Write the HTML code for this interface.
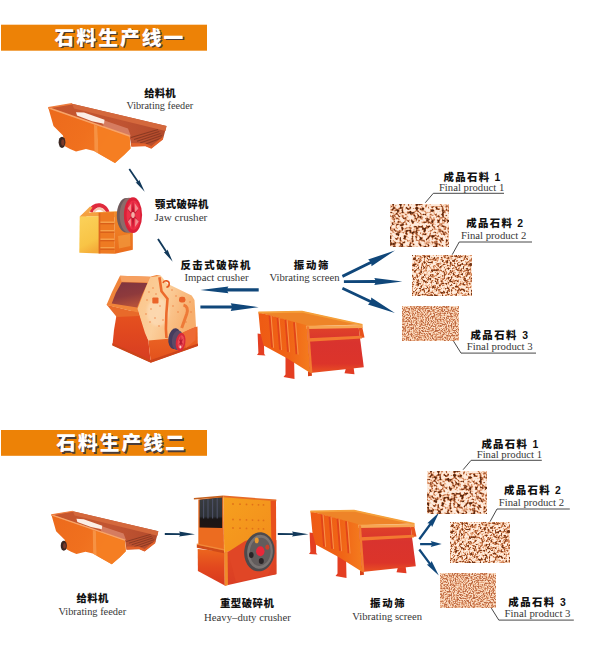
<!DOCTYPE html>
<html lang="zh-CN"><head><meta charset="utf-8"><title>石料生产线</title>
<style>
html,body{margin:0;padding:0;background:#fff;}
body{width:600px;height:647px;overflow:hidden;position:relative;}
svg{position:absolute;left:0;top:0;display:block}
.cn{font-family:"Liberation Sans","Noto Sans CJK SC",sans-serif;font-weight:900;font-size:10.4px;fill:#111}
.en{font-family:"Liberation Serif",serif;font-size:10.3px;fill:#383838}
.ttl{font-family:"Liberation Sans","Noto Sans CJK SC",sans-serif;font-weight:900;font-size:19.8px;letter-spacing:2px}
</style></head><body>
<svg width="600" height="647" viewBox="0 0 600 647">
<defs>
<filter id="b1"><feGaussianBlur stdDeviation="1.1"/></filter>
<filter id="b2"><feGaussianBlur stdDeviation="0.7"/></filter>
<filter id="st1" x="0" y="0" width="100%" height="100%" color-interpolation-filters="sRGB">
<feTurbulence type="fractalNoise" baseFrequency="0.26" numOctaves="1" seed="3" result="n1"/>
<feTurbulence type="fractalNoise" baseFrequency="0.5" numOctaves="1" seed="5" result="n2"/>
<feComposite in="n1" in2="n2" operator="arithmetic" k1="0" k2="0.5" k3="0.5" k4="0" result="m"/>
<feColorMatrix in="m" type="matrix" values="1 0 0 0 0  1 0 0 0 0  1 0 0 0 0  0 0 0 0 1" result="g"/>
<feComponentTransfer in="g">
<feFuncR type="table" tableValues="0.275 0.280 0.285 0.291 0.296 0.302 0.307 0.313 0.318 0.324 0.329 0.334 0.340 0.345 0.351 0.426 0.549 0.670 0.786 0.889 0.943 0.973 0.987 0.992 0.993 0.993 0.994 0.994 0.995 0.995 0.996 0.996 0.996 0.997 0.997 0.998 0.998 0.999 0.999 1.000 1.000"/>
<feFuncG type="table" tableValues="0.118 0.121 0.124 0.127 0.131 0.134 0.137 0.141 0.144 0.147 0.150 0.154 0.157 0.160 0.163 0.214 0.295 0.384 0.502 0.623 0.755 0.841 0.896 0.919 0.921 0.923 0.926 0.928 0.930 0.932 0.935 0.937 0.939 0.941 0.943 0.946 0.948 0.950 0.952 0.955 0.957"/>
<feFuncB type="table" tableValues="0.039 0.041 0.044 0.046 0.048 0.050 0.052 0.054 0.057 0.059 0.061 0.063 0.065 0.068 0.070 0.107 0.167 0.238 0.350 0.471 0.627 0.742 0.828 0.865 0.868 0.872 0.876 0.879 0.883 0.886 0.890 0.893 0.897 0.901 0.904 0.908 0.911 0.915 0.918 0.922 0.925"/>
</feComponentTransfer>
</filter>
<filter id="st2" x="0" y="0" width="100%" height="100%" color-interpolation-filters="sRGB">
<feTurbulence type="fractalNoise" baseFrequency="0.36" numOctaves="1" seed="7" result="n1"/>
<feTurbulence type="fractalNoise" baseFrequency="0.66" numOctaves="1" seed="9" result="n2"/>
<feComposite in="n1" in2="n2" operator="arithmetic" k1="0" k2="0.5" k3="0.5" k4="0" result="m"/>
<feColorMatrix in="m" type="matrix" values="1 0 0 0 0  1 0 0 0 0  1 0 0 0 0  0 0 0 0 1" result="g"/>
<feComponentTransfer in="g">
<feFuncR type="table" tableValues="0.353 0.360 0.366 0.373 0.379 0.386 0.393 0.399 0.406 0.413 0.419 0.426 0.432 0.439 0.446 0.472 0.575 0.677 0.782 0.886 0.940 0.977 0.988 0.996 0.996 0.997 0.997 0.997 0.997 0.997 0.998 0.998 0.998 0.998 0.999 0.999 0.999 0.999 1.000 1.000 1.000"/>
<feFuncG type="table" tableValues="0.157 0.161 0.165 0.169 0.173 0.177 0.181 0.185 0.189 0.193 0.197 0.201 0.205 0.209 0.213 0.230 0.304 0.377 0.486 0.604 0.741 0.842 0.888 0.926 0.928 0.930 0.931 0.933 0.935 0.937 0.939 0.940 0.942 0.944 0.946 0.948 0.950 0.951 0.953 0.955 0.957"/>
<feFuncB type="table" tableValues="0.071 0.072 0.074 0.076 0.078 0.080 0.082 0.084 0.085 0.087 0.089 0.091 0.093 0.095 0.097 0.109 0.163 0.217 0.322 0.439 0.606 0.736 0.811 0.871 0.874 0.877 0.879 0.882 0.885 0.888 0.890 0.893 0.896 0.898 0.901 0.904 0.907 0.909 0.912 0.915 0.918"/>
</feComponentTransfer>
</filter>
<filter id="st3" x="0" y="0" width="100%" height="100%" color-interpolation-filters="sRGB">
<feTurbulence type="fractalNoise" baseFrequency="0.62" numOctaves="1" seed="11" result="n1"/>
<feTurbulence type="fractalNoise" baseFrequency="0.95" numOctaves="1" seed="13" result="n2"/>
<feComposite in="n1" in2="n2" operator="arithmetic" k1="0" k2="0.5" k3="0.5" k4="0" result="m"/>
<feColorMatrix in="m" type="matrix" values="1 0 0 0 0  1 0 0 0 0  1 0 0 0 0  0 0 0 0 1" result="g"/>
<feComponentTransfer in="g">
<feFuncR type="table" tableValues="0.647 0.653 0.658 0.664 0.670 0.675 0.681 0.687 0.692 0.698 0.703 0.709 0.715 0.720 0.726 0.732 0.737 0.784 0.831 0.875 0.914 0.943 0.962 0.977 0.981 0.982 0.984 0.985 0.986 0.987 0.988 0.989 0.991 0.992 0.993 0.994 0.995 0.996 0.998 0.999 1.000"/>
<feFuncG type="table" tableValues="0.361 0.364 0.368 0.371 0.375 0.378 0.381 0.385 0.388 0.392 0.395 0.399 0.402 0.405 0.409 0.412 0.416 0.478 0.541 0.610 0.680 0.754 0.809 0.860 0.873 0.876 0.880 0.883 0.886 0.890 0.893 0.896 0.899 0.903 0.906 0.909 0.912 0.916 0.919 0.922 0.925"/>
<feFuncB type="table" tableValues="0.216 0.219 0.222 0.225 0.228 0.232 0.235 0.238 0.241 0.244 0.248 0.251 0.254 0.257 0.260 0.263 0.267 0.325 0.384 0.453 0.529 0.618 0.692 0.762 0.781 0.787 0.792 0.798 0.803 0.809 0.815 0.820 0.826 0.831 0.837 0.843 0.848 0.854 0.859 0.865 0.871"/>
</feComponentTransfer>
</filter>
<linearGradient id="gFeedIn" x1="0" y1="0" x2="1" y2="0"><stop offset="0" stop-color="#c6562c"/><stop offset="0.6" stop-color="#c05432"/><stop offset="1" stop-color="#b24a2c"/></linearGradient>
<linearGradient id="gFeedFront" x1="0" y1="0" x2="1" y2="0.4"><stop offset="0" stop-color="#ec6a1c"/><stop offset="0.55" stop-color="#f0701e"/><stop offset="1" stop-color="#f47c26"/></linearGradient>
<linearGradient id="gJawY" x1="0.3" y1="0" x2="0.6" y2="1"><stop offset="0" stop-color="#fbd058"/><stop offset="0.7" stop-color="#f8c446"/><stop offset="1" stop-color="#f4aa38"/></linearGradient>
<linearGradient id="gJawR" x1="0" y1="0" x2="0" y2="1"><stop offset="0" stop-color="#f08a2a"/><stop offset="1" stop-color="#ea6c1c"/></linearGradient>
<linearGradient id="gImpBaseL" x1="0" y1="0" x2="0" y2="1"><stop offset="0" stop-color="#e6541f"/><stop offset="0.45" stop-color="#e0481f"/><stop offset="1" stop-color="#d63c22"/></linearGradient>
<linearGradient id="gImpBaseR" x1="0" y1="0" x2="0" y2="1"><stop offset="0" stop-color="#ee6a26"/><stop offset="1" stop-color="#e2501c"/></linearGradient>
<linearGradient id="gImpOpen" x1="0" y1="0" x2="0.3" y2="1"><stop offset="0" stop-color="#7e3440"/><stop offset="0.6" stop-color="#8e3a3c"/><stop offset="1" stop-color="#b4503a"/></linearGradient>
<linearGradient id="gImpSide" x1="0" y1="0" x2="1" y2="0.4"><stop offset="0" stop-color="#fbc488"/><stop offset="0.5" stop-color="#fbcf9c"/><stop offset="1" stop-color="#f7ae6c"/></linearGradient>
<linearGradient id="gScrSide" x1="0" y1="0" x2="1" y2="0"><stop offset="0" stop-color="#ee5a14"/><stop offset="0.6" stop-color="#f06416"/><stop offset="1" stop-color="#f47c1e"/></linearGradient>
<linearGradient id="gScrFront" x1="0" y1="0" x2="0" y2="1"><stop offset="0" stop-color="#e04428"/><stop offset="0.35" stop-color="#d9332e"/><stop offset="0.8" stop-color="#dc342a"/><stop offset="1" stop-color="#ea5222"/></linearGradient>
<linearGradient id="gHvL" x1="0" y1="0" x2="0" y2="1"><stop offset="0" stop-color="#ec661e"/><stop offset="0.5" stop-color="#e2481e"/><stop offset="1" stop-color="#d8381e"/></linearGradient>
<linearGradient id="gHvOpen" x1="0" y1="0" x2="0" y2="1"><stop offset="0" stop-color="#3a3c40"/><stop offset="0.62" stop-color="#2e3238"/><stop offset="0.7" stop-color="#1a1616"/><stop offset="1" stop-color="#201614"/></linearGradient>
<linearGradient id="gHvFU" x1="0" y1="0" x2="1" y2="1"><stop offset="0" stop-color="#f6a01e"/><stop offset="1" stop-color="#f28c1c"/></linearGradient>
<linearGradient id="gHvFL" x1="0" y1="0" x2="0" y2="1"><stop offset="0" stop-color="#e24a24"/><stop offset="1" stop-color="#da3e24"/></linearGradient>
<g id="feeder">
<polygon points="48.3,107.7 72.0,103.7 166.5,126.0 163.0,139.0 151.3,148.3 145.3,145.7 131.3,146.3 129.6,136.0" fill="url(#gFeedIn)" />
<polygon points="72.0,103.7 166.5,126.0 165.5,131.0 74.0,108.5" fill="#d4683c" />
<polygon points="100.0,119.0 128.0,128.5 131.0,136.5 104.0,127.0" fill="#dc8a70" opacity="0.75"/>
<polygon points="76.0,112.2 84.0,112.6 104.5,119.8 104.0,123.8 92.0,121.2 77.0,115.6" fill="#fbeee6" filter="url(#b2)"/>
<line x1="131.0" y1="137.5" x2="158.0" y2="129.5" stroke="#8c3a22" stroke-width="1.1"/>
<line x1="134.0" y1="139.4" x2="159.2" y2="131.5" stroke="#8c3a22" stroke-width="1.1"/>
<line x1="137.0" y1="141.2" x2="160.5" y2="133.5" stroke="#8c3a22" stroke-width="1.1"/>
<line x1="140.0" y1="143.1" x2="161.8" y2="135.5" stroke="#8c3a22" stroke-width="1.1"/>
<line x1="143.0" y1="145.0" x2="163.0" y2="137.5" stroke="#8c3a22" stroke-width="1.1"/>
<polygon points="131.3,143.0 145.3,143.5 151.3,146.0 163.0,136.5 163.0,139.5 151.3,148.8 145.3,146.2 131.3,146.8" fill="#e2612a" />
<polygon points="48.3,107.7 129.6,136.0 130.5,148.5 124.0,155.0 115.0,163.0 94.0,151.0 86.0,149.0 76.0,151.5 70.0,149.0 64.5,146.0 63.0,135.5 53.5,126.0" fill="url(#gFeedFront)" />
<polygon points="94.0,124.7 97.5,126.0 98.5,153.5 94.5,151.2" fill="#f89a4c" opacity="0.8"/>
<polygon points="97.5,126.0 129.6,137.2 130.5,148.5 124.0,155.0 115.0,163.0 98.5,153.5" fill="#f57e22" opacity="0.9"/>
<polyline points="48.3,107.7 129.6,136.0" fill="none" stroke="#f7a468" stroke-width="1.6"/>
<polyline points="48.3,107.7 72.0,103.7" fill="none" stroke="#ee7c3c" stroke-width="1.4"/>
<ellipse cx="62" cy="142.3" rx="3.4" ry="5.6" fill="#3b2722"/>
<ellipse cx="62.8" cy="142.5" rx="1.6" ry="3.2" fill="#7a3a2a"/>
</g>
<g id="screen">
<g transform="translate(0 0.5)">
<polygon points="257.6,333.0 263.8,334.0 264.2,353.5 265.5,355.0 257.0,354.5 258.4,352.5" fill="#e43e22" />
<polygon points="285.5,351.0 294.0,355.0 294.5,378.5 283.5,376.5 285.5,374.0" fill="#e43e22" />
<polygon points="308.0,371.0 311.5,370.5 312.0,375.3 308.0,375.8" fill="#d84218" />
<polygon points="346.5,366.0 353.3,364.8 354.5,373.8 344.5,372.8" fill="#e23c24" />
<polygon points="258.4,311.7 302.0,310.8 362.0,323.9 306.8,325.8" fill="#ee8428" />
<polygon points="258.4,311.7 306.8,324.7 310.4,372.5 287.0,357.8 263.6,345.0 260.4,332.8" fill="url(#gScrSide)" />
<line x1="269.5" y1="315" x2="272.0" y2="347" stroke="#e2441a" stroke-width="1.8"/>
<line x1="271.1" y1="315.3" x2="273.6" y2="347.3" stroke="#f8924a" stroke-width="1"/>
<line x1="277.5" y1="317.2" x2="280.0" y2="349.2" stroke="#e2441a" stroke-width="1.8"/>
<line x1="279.1" y1="317.5" x2="281.6" y2="349.5" stroke="#f8924a" stroke-width="1"/>
<line x1="285.5" y1="319.4" x2="288.0" y2="351.4" stroke="#e2441a" stroke-width="1.8"/>
<line x1="287.1" y1="319.7" x2="289.6" y2="351.7" stroke="#f8924a" stroke-width="1"/>
<line x1="294" y1="321.7" x2="296.5" y2="353.7" stroke="#e2441a" stroke-width="1.8"/>
<line x1="295.6" y1="322.0" x2="298.1" y2="354.0" stroke="#f8924a" stroke-width="1"/>
<polyline points="258.4,312.0 302.0,311.2 362.5,324.3" fill="none" stroke="#f5a03a" stroke-width="1.8"/>
<polygon points="306.8,325.8 358.5,325.8 363.8,366.8 310.2,372.6" fill="url(#gScrFront)" />
<polygon points="358.5,325.8 362.0,325.5 364.5,337.0 360.0,337.5" fill="#e8521c" />
<polygon points="306.0,325.2 362.5,324.5 362.8,327.6 306.5,328.4" fill="#f7a652" />
<polygon points="307.8,337.8 361.5,335.3 362.0,338.0 308.0,341.2" fill="#f27a30" />
<polygon points="306.8,325.8 309.0,326.0 312.4,372.3 310.2,372.6" fill="#f27a30" />
</g>
</g>
</defs>

<!-- banners -->
<rect x="1" y="24.7" width="206" height="26" fill="#ed8206"/>
<text class="ttl" x="56" y="46.2" fill="#4a3c38">石料生产线一</text>
<text class="ttl" x="54.6" y="44.8" fill="#fff">石料生产线一</text>
<rect x="1" y="430" width="206" height="25.8" fill="#ed8206"/>
<text class="ttl" x="57.6" y="451.7" fill="#4a3c38">石料生产线二</text>
<text class="ttl" x="56.2" y="450.3" fill="#fff">石料生产线二</text>

<!-- line 1 -->
<use href="#feeder"/>
<g id="jaw">
<path d="M89,211 C91,201.5 105,200 109.5,211.5 L106.5,213 C103,205.5 95,206 92.5,213 Z" fill="#e02a3c"/>
<path d="M92.5,213 C95,206 103,205.5 106.5,213 L104.5,213.5 C101.5,208.5 96.5,208.5 94.5,213.5Z" fill="#f6c8b0"/>
<polygon points="79.7,216.8 90.0,206.6 92.5,207.4 86.0,217.0" fill="#f4a648" />
<polygon points="79.7,216.6 84.5,212.8 116.0,211.2 132.0,212.0 132.0,218.0 99.0,216.5" fill="#f4a040" />
<polygon points="79.7,216.6 98.9,216.2 99.6,253.4 79.3,252.8" fill="url(#gJawY)" />
<polygon points="98.9,212.8 114.4,212.0 115.0,253.8 99.6,253.4" fill="#ee7a22" />
<rect x="99.6" y="221.5" width="15" height="1.6" fill="#f6a04a"/>
<rect x="99.6" y="223.1" width="15" height="1.2" fill="#d85c18"/>
<rect x="99.6" y="230" width="15" height="1.6" fill="#f6a04a"/>
<rect x="99.6" y="231.6" width="15" height="1.2" fill="#d85c18"/>
<rect x="99.6" y="238.5" width="15" height="1.6" fill="#f6a04a"/>
<rect x="99.6" y="240.1" width="15" height="1.2" fill="#d85c18"/>
<rect x="99.6" y="247" width="15" height="1.6" fill="#f6a04a"/>
<rect x="99.6" y="248.6" width="15" height="1.2" fill="#d85c18"/>
<rect x="98.6" y="213" width="1.8" height="40.5" fill="#de661e"/>
<polygon points="114.4,212.0 132.8,212.0 132.8,249.8 115.0,253.8" fill="url(#gJawR)" />
<polygon points="118.0,236.0 130.0,234.0 130.5,246.0 119.0,248.5" fill="#f29a3e" opacity="0.7"/>
<ellipse cx="126.3" cy="215.3" rx="9.5" ry="17.2" fill="#6e5a5c"/>
<ellipse cx="129" cy="215.3" rx="9.3" ry="17.5" fill="#8c6c6a"/>
<ellipse cx="133" cy="215.1" rx="9.1" ry="17.8" fill="#dc2038"/>
<ellipse cx="133.4" cy="215.1" rx="6.9" ry="14.6" fill="#ee3048"/>
<path d="M133,200.5 L134.6,215 L133,229.7 L131.4,215Z M126.5,207.5 L133.6,214.2 L139.5,223 L132.4,216Z M139.5,207.2 L133.6,216 L126.6,223 L132.4,214.2Z" fill="#bc1830"/>
<path d="M134.6,203 L138.5,208.5 L135.2,212.5Z M130.8,218 L127.8,221.5 L131,227Z M135.4,218 L138.8,221.5 L135,227Z M131.2,203.5 L127.6,208.5 L130.8,212.5Z" fill="#f6a8a4" opacity="0.75"/>
<ellipse cx="133" cy="215.1" rx="1.8" ry="3" fill="#f6b0a8"/>
</g>
<g id="impact">
<polygon points="116.7,314.0 138.3,310.0 148.3,340.0 150.8,362.5 112.5,345.0 114.0,330.0" fill="url(#gImpBaseL)" />
<polygon points="106.7,304.7 136.7,312.2 138.3,310.0 139.0,316.0 116.7,317.0" fill="#e86a2a" />
<polygon points="148.3,340.0 197.5,326.5 197.8,345.8 150.8,362.5" fill="url(#gImpBaseR)" />
<polygon points="112.3,343.2 150.8,360.0 198.0,343.6 198.0,346.0 150.8,362.8 112.3,345.5" fill="#cc441a" />
<polygon points="120.0,275.8 150.0,276.7 156.7,275.0 160.8,275.8 150.0,281.0 137.5,312.5 106.5,304.9 112.0,292.0" fill="#f0843a" />
<polygon points="120.0,275.8 150.0,276.7 147.8,282.6 121.5,281.8" fill="#f6a060" />
<polygon points="121.7,282.2 147.5,283.0 142.5,294.0 137.2,307.6 111.7,303.6 115.8,293.0" fill="url(#gImpOpen)" />
<polygon points="150.0,277.2 160.8,275.8 167.5,283.8 191.7,295.5 194.5,300.0 196.0,326.5 183.0,332.4 168.3,338.8 148.3,340.5 145.0,333.0 137.5,308.8 146.0,287.0" fill="url(#gImpSide)" />
<ellipse cx="158" cy="312" rx="11" ry="14" fill="#fde0c0" opacity="0.55" filter="url(#b1)"/>
<path d="M159.4,277.2 L161.5,291.3 L167.5,298.8 L166.4,313 L165.9,329 L166.5,338" fill="none" stroke="#ec6a2c" stroke-width="2.6"/>
<rect x="152.3" y="297.4" width="6.2" height="6" rx="1" fill="#ea642a"/>
<rect x="179" y="296.8" width="6.4" height="5.8" rx="2.4" fill="#ea642a"/>
<path d="M163,283 a3.2,3.2 0 1 1 3.4,4.2" fill="none" stroke="#e4581f" stroke-width="1.6"/>
<path d="M183.5,305 q5.5,1.5 3.2,9 l-5,14" fill="none" stroke="#ee7a38" stroke-width="3"/>
<circle cx="149" cy="292" r="0.7" fill="#ea7a3a"/>
<circle cx="153" cy="288" r="0.7" fill="#ea7a3a"/>
<circle cx="156" cy="294" r="0.7" fill="#ea7a3a"/>
<circle cx="147" cy="300" r="0.7" fill="#ea7a3a"/>
<circle cx="151" cy="309" r="0.7" fill="#ea7a3a"/>
<circle cx="155" cy="318" r="0.7" fill="#ea7a3a"/>
<circle cx="150" cy="322" r="0.7" fill="#ea7a3a"/>
<circle cx="159" cy="326" r="0.7" fill="#ea7a3a"/>
<circle cx="163" cy="320" r="0.7" fill="#ea7a3a"/>
<circle cx="172" cy="290" r="0.7" fill="#ea7a3a"/>
<circle cx="176" cy="296" r="0.7" fill="#ea7a3a"/>
<circle cx="173" cy="306" r="0.7" fill="#ea7a3a"/>
<circle cx="178" cy="312" r="0.7" fill="#ea7a3a"/>
<circle cx="190" cy="302" r="0.7" fill="#ea7a3a"/>
<circle cx="191" cy="312" r="0.7" fill="#ea7a3a"/>
<circle cx="186" cy="322" r="0.7" fill="#ea7a3a"/>
<circle cx="146" cy="314" r="0.7" fill="#ea7a3a"/>
<circle cx="160" cy="306" r="0.7" fill="#ea7a3a"/>
<polygon points="183.0,332.4 196.0,326.5 195.5,340.0 186.0,348.0" fill="#ee6a34" />
<ellipse cx="174.6" cy="338.6" rx="6.2" ry="10.4" fill="#463c5e" transform="rotate(8 174.6 338.6)"/>
<ellipse cx="177.6" cy="340.2" rx="5.6" ry="9.8" fill="#5c4a66" transform="rotate(8 177.6 340.2)"/>
<ellipse cx="180.6" cy="342" rx="4.8" ry="9.2" fill="#d8283a" transform="rotate(8 180.6 342)"/>
<ellipse cx="180.9" cy="342" rx="3.2" ry="6.8" fill="#ec4a54" transform="rotate(8 180.9 342)"/>
<path d="M180.9,335.4 L181.8,342 L180.9,348.6 L180,342Z M178.2,338.6 L181.3,341.6 L183.6,345.6 L180.5,342.6Z M183.6,338.2 L181.3,342.4 L178.2,345.6 L180.5,341.4Z" fill="#b81830"/>
<ellipse cx="180.4" cy="347" rx="1" ry="1.4" fill="#fbd0d0"/>
</g>
<use href="#screen"/>
<polygon points="128.6,169.5 137.2,182.3 135.6,182.2 144.7,191.7 139.2,179.7 138.7,181.3 130.0,168.5" fill="#12395a" />
<polygon points="157.2,239.5 165.4,252.1 163.8,252.0 172.7,261.7 167.5,249.6 166.9,251.1 158.8,238.5" fill="#12395a" />
<polygon points="258.7,288.3 227.4,288.3 228.4,286.6 200.4,289.9 228.4,293.2 227.4,291.5 258.7,291.5" fill="#10477a" />
<polygon points="200.4,308.5 231.7,308.6 230.7,310.9 258.7,307.2 230.7,303.3 231.7,305.6 200.4,305.5" fill="#10477a" />
<polygon points="343.0,277.7 371.3,263.7 371.5,266.3 394.9,250.5 368.1,259.5 370.1,261.2 341.8,275.1" fill="#10477a" />
<polygon points="343.9,283.1 375.3,282.9 374.3,285.1 402.3,281.4 374.3,277.9 375.3,280.1 343.9,280.3" fill="#10477a" />
<polygon points="341.8,289.6 369.9,302.8 367.9,304.5 394.9,313.0 371.2,297.6 371.1,300.2 343.0,287.0" fill="#10477a" />

<text class="cn" x="144.3" y="96.9" textLength="31.4" lengthAdjust="spacing">给料机</text>
<text class="en" x="126.4" y="109.2" textLength="66.7" lengthAdjust="spacingAndGlyphs">Vibrating feeder</text>
<text class="cn" x="154.9" y="208.3" textLength="53.5" lengthAdjust="spacing">颚式破碎机</text>
<text class="en" x="154.4" y="221.3" textLength="52.9" lengthAdjust="spacingAndGlyphs">Jaw crusher</text>
<text class="cn" x="180.4" y="269.1" textLength="70.0" lengthAdjust="spacing">反击式破碎机</text>
<text class="en" x="184.4" y="281.3" textLength="64.2" lengthAdjust="spacingAndGlyphs">Impact crusher</text>
<text class="cn" x="293.8" y="269.1" textLength="34.6" lengthAdjust="spacing">振动筛</text>
<text class="en" x="269.4" y="281.3" textLength="70.1" lengthAdjust="spacingAndGlyphs">Vibrating screen</text>
<g transform="translate(0 0)">
<rect x="390" y="204" width="58.5" height="42.7" fill="#d9a57e"/><rect x="390" y="204" width="58.5" height="42.7" filter="url(#st1)"/>
<rect x="412.4" y="255.6" width="59.2" height="40" fill="#d9a57e"/><rect x="412.4" y="255.6" width="59.2" height="40" filter="url(#st2)"/>
<rect x="402.5" y="306.6" width="55.6" height="34" fill="#dfae8a"/><rect x="402.5" y="306.6" width="55.6" height="34" filter="url(#st3)"/>
<polyline points="425.3,202.7 433.3,193.3 504,193.3" fill="none" stroke="#333" stroke-width="0.9"/>
<polyline points="452.2,254.7 459.2,242 532,242" fill="none" stroke="#333" stroke-width="0.9"/>
<polyline points="453.5,341.1 461,353.1 536,353.1" fill="none" stroke="#333" stroke-width="0.9"/>
<text class="cn" x="443.6" y="180.7" textLength="56.8" lengthAdjust="spacing">成品石料 1</text>
<text class="en" x="438.9" y="191.4" textLength="65.4" lengthAdjust="spacingAndGlyphs">Final product 1</text>
<text class="cn" x="466.3" y="226.9" textLength="56.8" lengthAdjust="spacing">成品石料 2</text>
<text class="en" x="461.0" y="239.4" textLength="65.3" lengthAdjust="spacingAndGlyphs">Final product 2</text>
<text class="cn" x="470.5" y="339.0" textLength="57.5" lengthAdjust="spacing">成品石料 3</text>
<text class="en" x="466.7" y="350.4" textLength="66.0" lengthAdjust="spacingAndGlyphs">Final product 3</text>
</g>

<!-- line 2 -->
<use href="#feeder" transform="translate(51.3 515.1) scale(0.905 0.895) translate(-48.2 -108)"/>
<g id="heavy">
<polygon points="197.7,549.0 224.0,551.5 224.8,585.6 197.9,571.0" fill="url(#gHvL)" />
<polygon points="198.3,499.5 223.5,496.5 224.0,551.5 198.3,546.0" fill="#ec6c20" />
<polygon points="199.6,499.8 222.2,497.2 222.2,528.0 199.6,527.6" fill="url(#gHvOpen)" />
<line x1="203.6" y1="499.8" x2="203.6" y2="518.5" stroke="#4c5066" stroke-width="1.1"/>
<line x1="208" y1="499.3" x2="208" y2="518.5" stroke="#4c5066" stroke-width="1.1"/>
<line x1="212.6" y1="498.8" x2="212.6" y2="518.5" stroke="#4c5066" stroke-width="1.1"/>
<line x1="217.2" y1="498.3" x2="217.2" y2="518.5" stroke="#4c5066" stroke-width="1.1"/>
<polygon points="196.8,544.6 224.0,550.2 224.0,553.2 196.8,547.8" fill="#d04a18" />
<polygon points="196.8,543.4 224.0,549.0 224.0,550.4 196.8,544.8" fill="#f08a3a" />
<polygon points="223.5,496.5 275.5,500.5 275.7,541.0 224.2,552.5" fill="url(#gHvFU)" />
<polygon points="270.6,500.2 276.0,500.6 276.4,574.0 272.0,575.0" fill="#e8501c" />
<polygon points="224.2,552.5 276.4,540.0 276.4,574.2 224.8,585.8" fill="url(#gHvFL)" />
<polygon points="193.9,498.0 223.3,495.6 223.3,497.2 193.9,499.6" fill="#c4601e" />
<polygon points="223.3,495.6 276.3,499.6 276.3,501.2 223.3,497.2" fill="#e66a26" />
<circle cx="233.0" cy="504.0" r="0.9" fill="#e07018"/>
<circle cx="240.0" cy="504.2" r="0.9" fill="#e07018"/>
<circle cx="246.5" cy="504.4" r="0.9" fill="#e07018"/>
<circle cx="252.5" cy="504.6" r="0.9" fill="#e07018"/>
<circle cx="258.5" cy="504.8" r="0.9" fill="#e07018"/>
<circle cx="263.5" cy="504.9" r="0.9" fill="#e07018"/>
<circle cx="233.0" cy="519.5" r="0.9" fill="#e07018"/>
<circle cx="240.0" cy="519.7" r="0.9" fill="#e07018"/>
<circle cx="246.5" cy="519.9" r="0.9" fill="#e07018"/>
<circle cx="252.5" cy="520.1" r="0.9" fill="#e07018"/>
<circle cx="258.5" cy="520.3" r="0.9" fill="#e07018"/>
<circle cx="263.5" cy="520.4" r="0.9" fill="#e07018"/>
<circle cx="233.0" cy="528.0" r="0.9" fill="#e07018"/>
<circle cx="240.0" cy="528.2" r="0.9" fill="#e07018"/>
<circle cx="246.5" cy="528.4" r="0.9" fill="#e07018"/>
<circle cx="252.5" cy="528.6" r="0.9" fill="#e07018"/>
<circle cx="258.5" cy="528.8" r="0.9" fill="#e07018"/>
<circle cx="263.5" cy="528.9" r="0.9" fill="#e07018"/>
<polygon points="224.2,552.5 227.6,551.7 228.0,585.0 224.8,585.8" fill="#f08a2a" />
<polygon points="228.0,552.0 245.0,541.0 262.0,536.0 274.0,560.0 268.0,575.0 236.0,582.0" fill="#e04626" />
<ellipse cx="259.4" cy="551.8" rx="15.2" ry="19.6" fill="#4e4a4c" transform="rotate(6 259.4 551.8)"/>
<ellipse cx="260" cy="551.8" rx="12.8" ry="17" fill="#7a7472" transform="rotate(6 260 551.8)"/>
<ellipse cx="260.2" cy="551.8" rx="10.4" ry="14.2" fill="#625c5c" transform="rotate(6 260.2 551.8)"/>
<ellipse cx="260.3" cy="551.2" rx="4.2" ry="5" fill="#e8283a"/>
<ellipse cx="251.3" cy="555" rx="2.3" ry="3" fill="#2a2426"/>
<ellipse cx="261.3" cy="561" rx="2.5" ry="3" fill="#2a2426"/>
<ellipse cx="267.3" cy="547.2" rx="2" ry="2.6" fill="#c8402a"/>
<ellipse cx="256.7" cy="540.4" rx="2" ry="2.8" fill="#e89a30"/>
</g>
<use href="#screen" transform="translate(52 199)"/>
<polygon points="164.8,534.9 180.0,535.1 179.0,536.6 195.0,534.3 179.0,531.6 180.0,533.3 164.8,533.1" fill="#12395a" />
<polygon points="277.8,534.9 293.0,535.0 292.0,536.6 308.5,534.3 292.0,531.6 293.0,533.2 277.8,533.1" fill="#12395a" />
<polygon points="420.2,539.9 431.2,524.9 432.1,526.9 439.2,512.2 427.3,523.3 429.4,523.6 418.4,538.5" fill="#10477a" />
<polygon points="420.1,545.2 431.7,545.2 430.7,547.1 441.7,544.1 430.7,541.1 431.7,543.0 420.1,543.0" fill="#10477a" />
<polygon points="418.4,550.2 428.9,564.2 426.8,564.6 438.8,575.6 431.6,561.0 430.7,562.9 420.2,548.8" fill="#10477a" />

<text class="cn" x="76.6" y="602.0" textLength="31.8" lengthAdjust="spacing">给料机</text>
<text class="en" x="58.4" y="615.0" textLength="67.7" lengthAdjust="spacingAndGlyphs">Vibrating feeder</text>
<text class="cn" x="219.9" y="607.4" textLength="53.9" lengthAdjust="spacing">重型破碎机</text>
<text class="en" x="204.0" y="621.2" textLength="86.8" lengthAdjust="spacingAndGlyphs">Heavy–duty crusher</text>
<text class="cn" x="370.0" y="606.8" textLength="34.7" lengthAdjust="spacing">振动筛</text>
<text class="en" x="352.3" y="619.5" textLength="69.8" lengthAdjust="spacingAndGlyphs">Vibrating screen</text>
<g transform="translate(37.8 267)">
<rect x="390" y="204" width="58.5" height="42.7" fill="#d9a57e"/><rect x="390" y="204" width="58.5" height="42.7" filter="url(#st1)"/>
<rect x="412.4" y="255.6" width="59.2" height="40" fill="#d9a57e"/><rect x="412.4" y="255.6" width="59.2" height="40" filter="url(#st2)"/>
<rect x="402.5" y="306.6" width="55.6" height="34" fill="#dfae8a"/><rect x="402.5" y="306.6" width="55.6" height="34" filter="url(#st3)"/>
<polyline points="425.3,202.7 433.3,193.3 504,193.3" fill="none" stroke="#333" stroke-width="0.9"/>
<polyline points="452.2,254.7 459.2,242 532,242" fill="none" stroke="#333" stroke-width="0.9"/>
<polyline points="453.5,341.1 461,353.1 536,353.1" fill="none" stroke="#333" stroke-width="0.9"/>
<text class="cn" x="443.6" y="180.7" textLength="56.8" lengthAdjust="spacing">成品石料 1</text>
<text class="en" x="438.9" y="191.4" textLength="65.4" lengthAdjust="spacingAndGlyphs">Final product 1</text>
<text class="cn" x="466.3" y="226.9" textLength="56.8" lengthAdjust="spacing">成品石料 2</text>
<text class="en" x="461.0" y="239.4" textLength="65.3" lengthAdjust="spacingAndGlyphs">Final product 2</text>
<text class="cn" x="470.5" y="339.0" textLength="57.5" lengthAdjust="spacing">成品石料 3</text>
<text class="en" x="466.7" y="350.4" textLength="66.0" lengthAdjust="spacingAndGlyphs">Final product 3</text>
</g>
</svg>
</body></html>
